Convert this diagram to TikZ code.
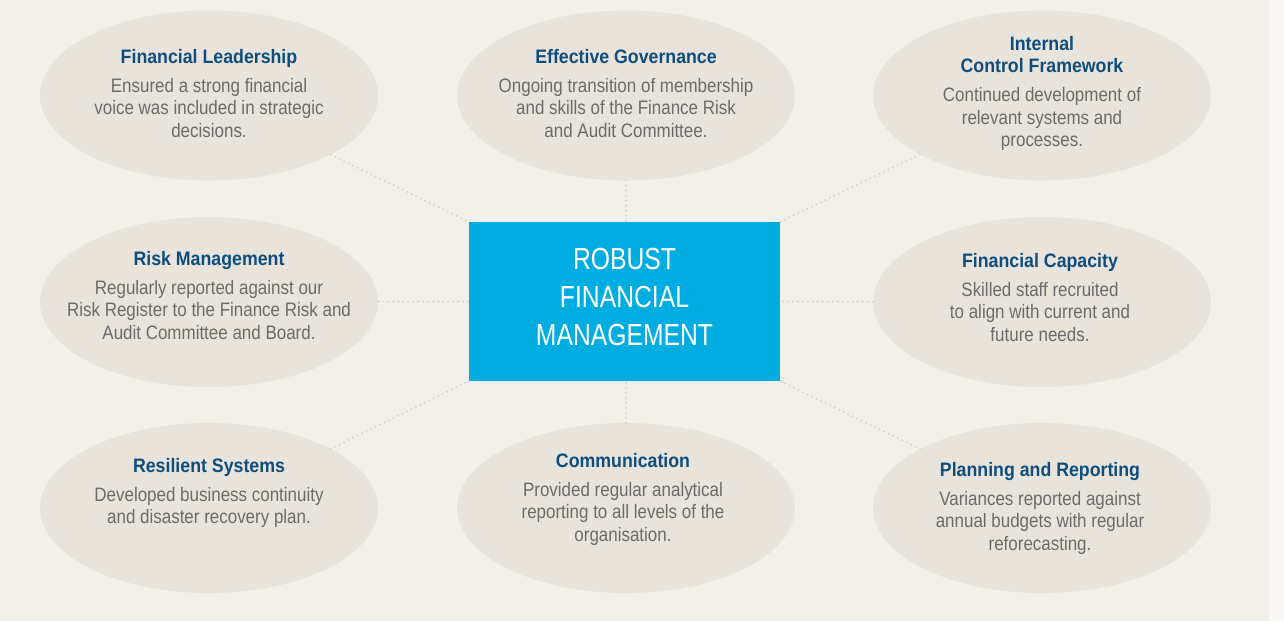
\documentclass[tikz,border=0pt]{standalone}
\usepackage{fontspec}
\setmainfont{Liberation Sans}
\newfontfamily\bodyfam[FakeStretch=0.87]{Liberation Sans}
\newfontfamily\titlefam[FakeStretch=0.91]{Liberation Sans}
\newfontfamily\centerfam[FakeStretch=0.81]{Liberation Sans}
\usetikzlibrary{shapes.geometric}
\definecolor{bg}{HTML}{F2F0EB}
\definecolor{strip}{HTML}{F9F8F6}
\definecolor{bubblefill}{HTML}{E8E4DC}
\definecolor{hubblue}{HTML}{00ADE0}
\definecolor{titleblue}{HTML}{0E4D7C}
\definecolor{bodygray}{HTML}{6B6B6B}
\definecolor{dotcol}{HTML}{D6D0C1}
\newcommand\ttl[1]{{\titlefam\bfseries\color{titleblue}#1}}
\begin{document}
\begin{tikzpicture}[x=1pt,y=-1pt,
  bubble/.style={ellipse, fill=bubblefill, minimum width=338pt, minimum height=170pt, inner sep=0pt},
  txt/.style={anchor=north, align=center, inner sep=0pt, text=bodygray, font=\bodyfam\fontsize{19.5}{22.5}\selectfont},
  hub/.style={rectangle, fill=hubblue, minimum width=311pt, minimum height=159pt, inner sep=0pt},
  hubtxt/.style={anchor=north, align=center, inner sep=0pt, text=white, font=\centerfam\fontsize{30.5}{38}\selectfont},
  link/.style={draw=dotcol, line width=2pt, line cap=round, dash pattern=on 0pt off 5pt}]
\fill[bg] (0,0) rectangle (1269,621);
\fill[strip] (1269,0) rectangle (1284,621);
\useasboundingbox (0,0) rectangle (1284,621);

\node[bubble] (tl) at (209,95.5) {};
\node[bubble] (tm) at (626,95.5) {};
\node[bubble] (tr) at (1042,95.5) {};
\node[bubble] (ml) at (209,302) {};
\node[bubble] (mr) at (1042,302) {};
\node[bubble] (bl) at (209,508) {};
\node[bubble] (bm) at (626,508) {};
\node[bubble] (br) at (1042,508) {};

\node[hub] (ctr) at (624.5,301.5) {};

\draw[link] (tl) -- (ctr.north west);
\draw[link] (tm.south) -- (tm.south |- ctr.north);
\draw[link] (tr) -- (ctr.north east);
\draw[link] (ml) -- (ctr.west);
\draw[link] (mr) -- (ctr.east);
\draw[link] (bl) -- (ctr.south west);
\draw[link] (bm.north) -- (bm.north |- ctr.south);
\draw[link] (br) -- (ctr.south east);

\node[hubtxt] (ctrtxt) at (624.5,248) {ROBUST\\FINANCIAL\\MANAGEMENT};

\node[txt] (tltxt) at (209,49) {\ttl{Financial Leadership}\\[6.5pt]Ensured a strong financial\\voice was included in strategic\\decisions.};
\node[txt] (tmtxt) at (626,49) {\ttl{Effective Governance}\\[6.5pt]Ongoing transition of membership\\and skills of the Finance Risk\\and Audit Committee.};
\node[txt] (trtxt) at (1042,36) {\ttl{Internal}\\\ttl{Control Framework}\\[6.5pt]Continued development of\\relevant systems and\\processes.};
\node[txt] (mltxt) at (209,251) {\ttl{Risk Management}\\[6.5pt]Regularly reported against our\\Risk Register to the Finance Risk and\\Audit Committee and Board.};
\node[txt] (mrtxt) at (1040,253) {\ttl{Financial Capacity}\\[6.5pt]Skilled staff recruited\\to align with current and\\future needs.};
\node[txt] (bltxt) at (209,458) {\ttl{Resilient Systems}\\[6.5pt]Developed business continuity\\and disaster recovery plan.};
\node[txt] (bmtxt) at (623,453) {\ttl{Communication}\\[6.5pt]Provided regular analytical\\reporting to all levels of the\\organisation.};
\node[txt] (brtxt) at (1040,462) {\ttl{Planning and Reporting}\\[6.5pt]Variances reported against\\annual budgets with regular\\reforecasting.};
\end{tikzpicture}
\end{document}
